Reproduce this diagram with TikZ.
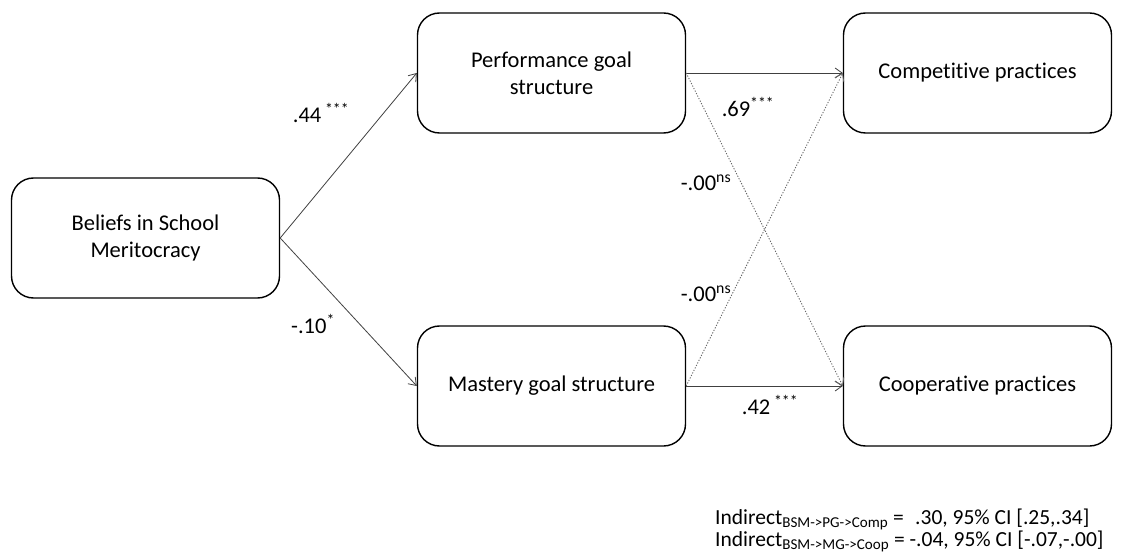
\documentclass[tikz,border=0pt]{standalone}
\usepackage{fontspec}
\setmainfont{Carlito}[Ligatures=NoCommon]
\usetikzlibrary{arrows.meta}
\tikzset{
  box/.style={draw=black, line width=1.4pt, rounded corners=22pt, minimum width=268pt, minimum height=120pt, align=center, font=\fontsize{22.5}{27}\selectfont, inner sep=0pt},
  path/.style={draw=black!75, line width=0.8pt, -{Straight Barb[length=7pt,width=10pt,line width=0.8pt]}},
  nspath/.style={draw=black!60, line width=0.9pt, dash pattern=on 1.2pt off 1.6pt, -{Straight Barb[length=7pt,width=10pt,line width=0.8pt]}},
  lbl/.style={font=\fontsize{22.5}{27}\selectfont, inner sep=0pt},
  note/.style={font=\fontsize{21.5}{22}\selectfont, inner sep=0pt, anchor=west, align=left}
}
\begin{document}
\begin{tikzpicture}[x=1pt,y=-1pt]
\useasboundingbox (0,0) rectangle (1126,553);
\node[box] (bsm) at (145.5,238) {Beliefs in School\\Meritocracy};
\node[box] (pg) at (551.5,73) {Performance goal\\structure};
\node[box] (mg) at (551.5,386) {Mastery goal structure};
\node[box] (comp) at (977.5,73) {Competitive practices};
\node[box] (coop) at (977.5,386) {Cooperative practices};
\draw[path] (bsm.east) -- (pg.west);
\draw[path] (bsm.east) -- (mg.west);
\draw[path] (pg.east) -- (comp.west);
\draw[path] (mg.east) -- (coop.west);
\draw[nspath] (pg.east) -- (coop.west);
\draw[nspath] (mg.east) -- (comp.west);
\node[lbl] (l1) at (321,113) {.44\,\textsuperscript{***}};
\node[lbl] (l2) at (313,324) {-.10\textsuperscript{*}};
\node[lbl] (l3) at (748,107) {.69\textsuperscript{***}};
\node[lbl] (l4) at (770,405) {.42\,\textsuperscript{***}};
\node[lbl] (l5) at (706,183) {-.00\textsuperscript{ns}};
\node[lbl] (l6) at (706,294) {-.00\textsuperscript{ns}};
\node[note] (n1) at (715,519) {Indirect\textsubscript{BSM->PG->Comp} = \hphantom{-}.30, 95\% CI [.25,.34]};
\node[note] (n2) at (715,541) {Indirect\textsubscript{BSM->MG->Coop} = -.04, 95\% CI [-.07,-.00]};
\end{tikzpicture}
\end{document}
